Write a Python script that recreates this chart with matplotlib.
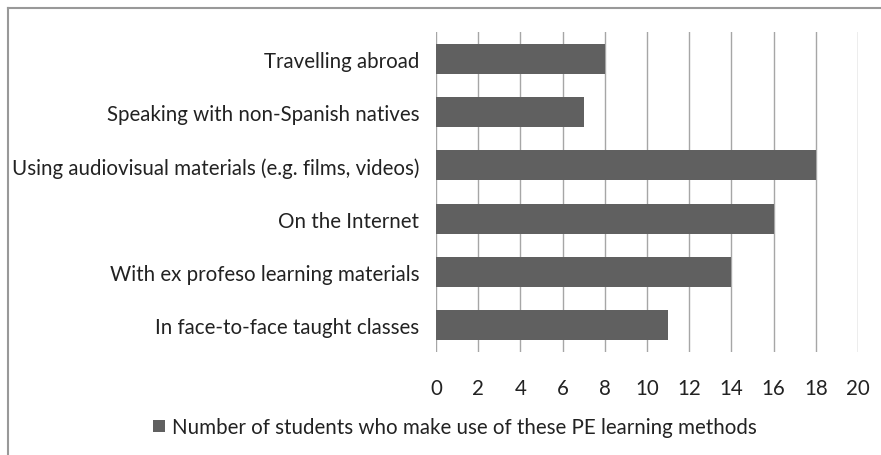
import matplotlib
matplotlib.use('Agg')
import matplotlib.pyplot as plt
from matplotlib.lines import Line2D

categories = ['Travelling abroad',
              'Speaking with non-Spanish natives',
              'Using audiovisual materials (e.g. films, videos)',
              'On the Internet',
              'With ex profeso learning materials',
              'In face-to-face taught classes']
values = [8, 7, 18, 16, 14, 11]
xticks = [0, 2, 4, 6, 8, 10, 12, 14, 16, 18, 20]
series_name = 'Number of students who make use of these PE learning methods'

plt.rcParams['font.family'] = ['Lato', 'DejaVu Sans']

W, H = 881, 456
fig = plt.figure(figsize=(W / 100, H / 100), dpi=100)
ax = fig.add_axes([436 / W, 1 - 353 / H, (858 - 436) / W, 320 / H])

ypos = list(range(len(categories)))[::-1]
ax.barh(ypos, values, height=0.56, color='#606060', zorder=3, label=series_name)

fs = 14.8
ax.set_xlim(0, 20)
ax.set_ylim(-0.5, len(categories) - 0.5)
ax.set_xticks(xticks)
ax.set_xticklabels([str(t) for t in xticks], fontsize=fs, color='#222222')
ax.set_yticks(ypos)
ax.set_yticklabels(categories, fontsize=fs, color='#222222')
ax.tick_params(axis='both', length=0)
ax.tick_params(axis='x', pad=19)
ax.tick_params(axis='y', pad=12)
ax.grid(axis='x', color='#a6a6a6', linewidth=1, zorder=0)
for s in ax.spines.values():
    s.set_visible(False)

fig.legend(loc='center', bbox_to_anchor=(455 / W, 1 - 428 / H), frameon=False,
           fontsize=fs, handlelength=0.55, handleheight=0.55, handletextpad=0.35,
           labelcolor='#222222')

fig.add_artist(Line2D([7.5 / W, 7.5 / W], [0, 1 - 9 / H], color='#999999', linewidth=1.5))
fig.add_artist(Line2D([7.5 / W, 1], [1 - 9 / H, 1 - 9 / H], color='#999999', linewidth=1.5))

fig.savefig('out.png', dpi=100)
